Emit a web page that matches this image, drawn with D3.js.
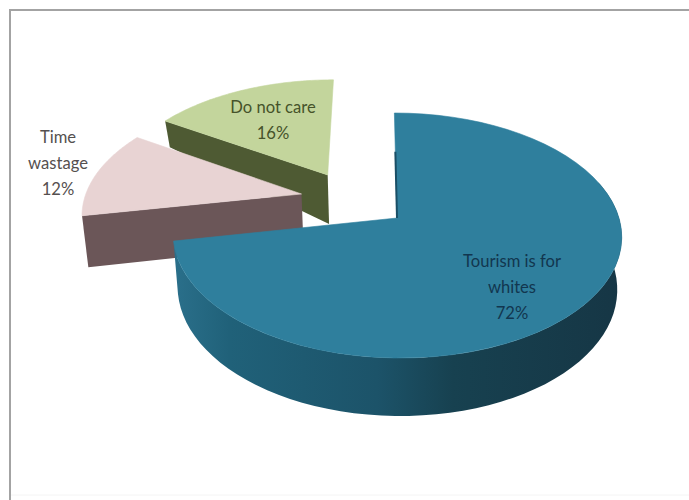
<!DOCTYPE html>
<html>
<head>
<meta charset="utf-8">
<script src="https://cdn.jsdelivr.net/npm/d3@7"></script>
<style>
  html, body { margin: 0; padding: 0; background: #fff; }
  svg { display: block; }
  text { font-family: Lato, "Open Sans", sans-serif; font-size: 16.6px; text-anchor: middle; }
</style>
</head>
<body>
<svg id="chart" width="689" height="500"></svg>
<script>
// Survey shares, clockwise from twelve o'clock
const categories = ["Tourism is for whites", "Time wastage", "Do not care"];
const shares = [72, 12, 16];
const labelLines = [["Tourism is for", "whites", "72%"], ["Time", "wastage", "12%"], ["Do not care", "16%"]];

const topColors = ["#2f7f9d", "#e8d3d3", "#c3d59c"];
const wallColors = ["#1d5a72", "#6b5658", "#4e5a33"];
const labelColors = ["#12364f", "#55504f", "#46532a"];
const labelAnchors = [[512, 262], [58, 137.5], [273, 107.5]];
const lineStep = 26;

// Exploded slice offsets in pie-radius units
const explode = [[0, 0], [-0.44, 0.206], [-0.324, 0.378]];

const svg = d3.select("#chart");

// Perspective view of the pie plane: u runs right, v runs away from the viewer
const view = { x0: 397, y0: 218, rx: 222, ry: 120, skew: -3, persp: 0.1429 };
const depth = d3.scaleLinear().domain([-1, 0.4, 0.92]).range([58, 49, 26]).clamp(true);

function projectTop(u, v) {
  const w = 1 + view.persp * v;
  return [view.x0 + (view.rx * u + view.skew * v) / w, view.y0 - view.ry * v / w];
}
function projectBottom(u, v) {
  const [x, y] = projectTop(u, v);
  return [view.x0 + (x - view.x0) * 0.98, y + depth(v)];
}

const arcs = d3.pie().value(d => d).sort(null)(shares);
const sampleAngles = (a0, a1) => d3.range(0, 61).map(i => a0 + (a1 - a0) * i / 60);
const rim = (a, off) => [off[0] + Math.sin(a), off[1] + Math.cos(a)];
const line = d3.line();

const defs = svg.append("defs");
const sideGrad = defs.append("linearGradient")
  .attr("id", "sideShade")
  .attr("gradientUnits", "userSpaceOnUse")
  .attr("x1", 176).attr("x2", 623).attr("y1", 0).attr("y2", 0);
[[0, "#2a6f8a"], [0.12, "#206179"], [0.45, "#1c5369"], [0.62, "#174150"], [1, "#163645"]]
  .forEach(([o, c]) => sideGrad.append("stop").attr("offset", o).attr("stop-color", c));

// Chart frame: the top and left rules carry the visible border
svg.append("path")
  .attr("d", "M10,500V10H689")
  .attr("fill", "none").attr("stroke", "#a3a3a3").attr("stroke-width", 2);
svg.append("path")
  .attr("d", "M11,495H689")
  .attr("fill", "none").attr("stroke", "#f4f4f4").attr("stroke-width", 1);

// Slices are painted back to front: green, pink, then the large one
[2, 1, 0].forEach(i => {
  const d = arcs[i], off = explode[i];
  if (i === 0) {
    // Rounded outer side, visible on the front of the rim only
    const angles = sampleAngles(Math.PI * 0.4, d.endAngle);
    const top = angles.map(a => projectTop(...rim(a, off)));
    const bottom = angles.map(a => projectBottom(...rim(a, off))).reverse();
    svg.append("path")
      .attr("d", line(top.concat(bottom)) + "Z")
      .attr("fill", "url(#sideShade)");
  } else {
    // Flat cut face running from the apex to the slice's first edge
    const tip = rim(d.startAngle, off);
    svg.append("path")
      .attr("d", line([off, tip].map(p => projectTop(...p)).concat([tip, off].map(p => projectBottom(...p)))) + "Z")
      .attr("fill", wallColors[i]);
  }
  const face = [off].concat(sampleAngles(d.startAngle, d.endAngle).map(a => rim(a, off)));
  svg.append("path")
    .attr("d", line(face.map(p => projectTop(...p))) + "Z")
    .attr("fill", topColors[i])
    .attr("stroke", topColors[i]).attr("stroke-width", 0.6);
  if (i === 0) {
    // Thin shaded lip along the slice's vertical cut
    svg.append("path")
      .attr("d", line([projectTop(0, 0.6), projectTop(0, 0)]))
      .attr("stroke", "#1a4f66").attr("stroke-width", 2).attr("fill", "none");
  }
});

// Data labels
const labels = svg.selectAll("g.label").data(categories).join("g").attr("class", "label");
labels.each(function (_, i) {
  d3.select(this).selectAll("text").data(labelLines[i]).join("text")
    .attr("x", labelAnchors[i][0])
    .attr("y", (_, k) => labelAnchors[i][1] + 5 + k * lineStep)
    .attr("fill", labelColors[i])
    .text(t => t);
});
</script>
</body>
</html>
